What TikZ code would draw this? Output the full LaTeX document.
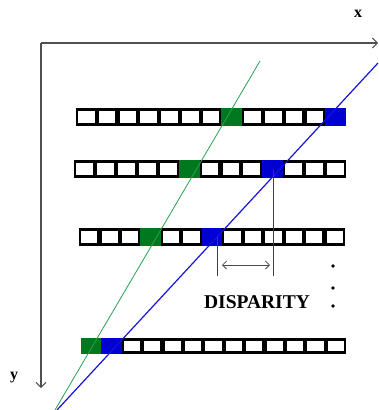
\documentclass[tikz,border=0pt]{standalone}
\usepackage{fontspec}
\setmainfont{Liberation Serif}
\usetikzlibrary{arrows.meta}
\definecolor{cellgreen}{RGB}{0,120,32}
\definecolor{cellblue}{RGB}{0,0,210}
\definecolor{linegreen}{RGB}{40,160,80}
\definecolor{lineblue}{RGB}{20,20,220}
\definecolor{axisgray}{RGB}{80,80,80}
\newcommand\cellrow[6]{%
  \pgfmathsetmacro\cw{(#2-#1)/13}
  \fill[black] (#1,#3) rectangle (#2,#4);
  \foreach \i in {0,...,12}{
    \fill[white] ({#1+\i*\cw+2.1},{#3+2.8}) rectangle ({#1+(\i+1)*\cw-2.1},{#4-2.8});
  }
  \fill[cellgreen] ({#1+#5*\cw},#3) rectangle ({#1+(#5+1)*\cw},#4);
  \fill[cellblue] ({#1+#6*\cw},#3) rectangle ({#1+(#6+1)*\cw},#4);
}
\tikzset{
  axis/.style={draw=axisgray, line width=1.2pt, -{Straight Barb[length=5pt,width=10pt,line width=1pt]}},
  lbl/.style={font=\bfseries\fontsize{16}{16}\selectfont, inner sep=0pt},
  drop/.style={draw=black!75, line width=0.9pt},
  dimarrow/.style={draw=black!70, line width=0.8pt, {Straight Barb[length=4pt,width=8pt]}-{Straight Barb[length=4pt,width=8pt]}},
  dotmark/.style={circle, fill=black, inner sep=0pt, minimum size=3.6pt}
}
\begin{document}
\begin{tikzpicture}[x=1pt,y=-1pt]
\useasboundingbox (0,0) rectangle (378,410);
% axes
\coordinate (o) at (41,43);
\coordinate (xend) at (378,43);
\coordinate (yend) at (41,388);
\draw[axis] (o) -- (xend);
\draw[axis] (o) -- (yend);
\node[lbl] (xl) at (358,14) {x};
\node[lbl] (yl) at (14,378) {y};
% rows
\cellrow{76}{346}{108}{126}{7}{12}
\cellrow{74}{346}{160}{178}{5}{9}
\cellrow{79}{345}{228}{246}{3}{6}
\cellrow{81}{346}{338}{354}{0}{1}
% lines
\coordinate (gtop) at (260,61);
\coordinate (gbot) at (55,410);
\coordinate (btop) at (378,63);
\coordinate (bbot) at (57,410);
\draw[linegreen, line width=0.8pt] (gtop) -- (gbot);
\draw[lineblue, line width=1.2pt] (btop) -- (bbot);
% disparity
\coordinate (d1t) at (273,170);
\coordinate (d1b) at (273,276);
\coordinate (d2t) at (217,237);
\coordinate (d2b) at (217,276);
\draw[drop] (d1t) -- (d1b);
\draw[drop] (d2t) -- (d2b);
\coordinate (al) at (222,265);
\coordinate (ar) at (270,265);
\draw[dimarrow] (al) -- (ar);
\node[font=\bfseries\fontsize{19.5}{19.5}\selectfont, inner sep=0pt] (disp) at (257,302) {DISPARITY};
\node[dotmark] (p1) at (333,266) {};
\node[dotmark] (p2) at (333,288) {};
\node[dotmark] (p3) at (333,306) {};
\end{tikzpicture}
\end{document}
